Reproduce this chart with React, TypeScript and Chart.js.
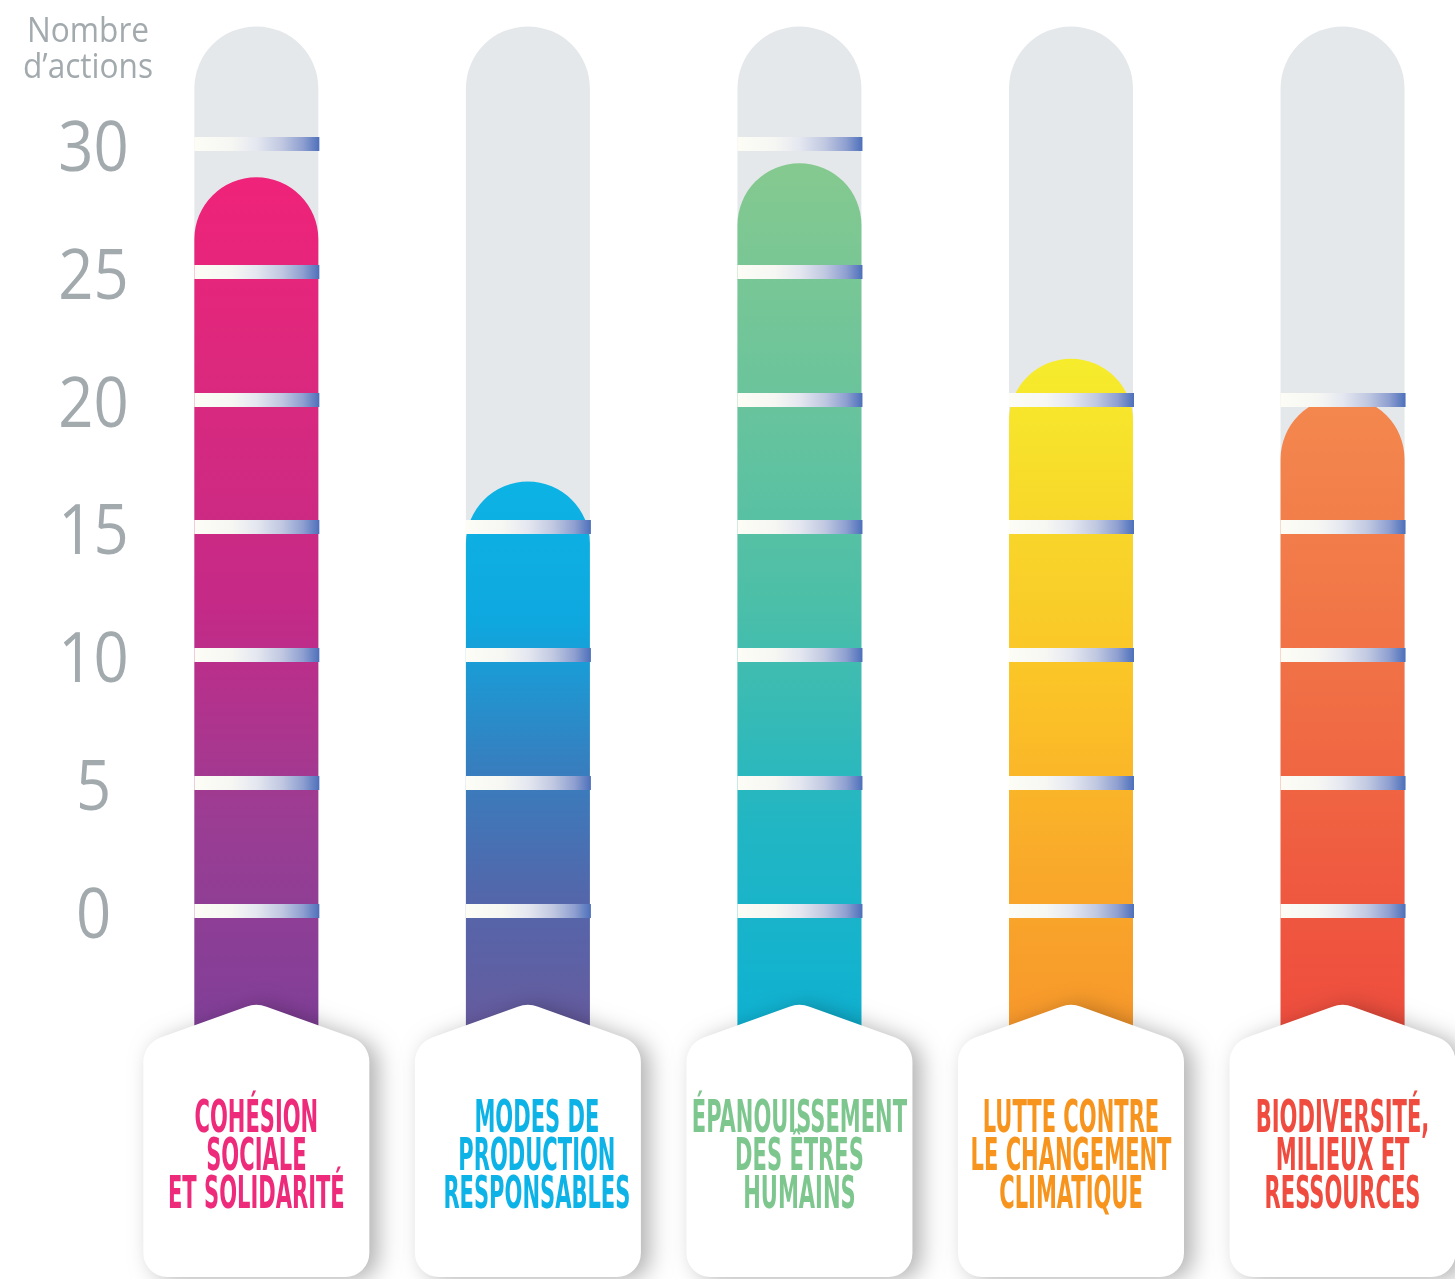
import React, { useEffect, useRef } from 'react';
import { Chart, registerables } from 'chart.js';

Chart.register(...registerables);

// ---------- data ----------
const CATEGORIES: string[][] = [
  ['COHÉSION', 'SOCIALE', 'ET SOLIDARITÉ'],
  ['MODES DE', 'PRODUCTION', 'RESPONSABLES'],
  ['ÉPANOUISSEMENT', 'DES ÊTRES', 'HUMAINS'],
  ['LUTTE CONTRE', 'LE CHANGEMENT', 'CLIMATIQUE'],
  ['BIODIVERSITÉ,', 'MILIEUX ET', 'RESSOURCES'],
];
const VALUES = [28.7, 16.8, 29.25, 21.6, 20.1];
const TICK_VALUES = [0, 5, 10, 15, 20, 25, 30];
const TICK_TOPS = [30, 15, 30, 20, 20];
const AXIS_TITLE = ['Nombre', 'd’actions'];

// ---------- style / layout ----------
const W = 1455;
const H = 1279;
const Y_MAX = 35.632;
const Y_MIN = -14.394;
const X_MIN = -0.9440;
const X_MAX = 4.4141;
const TUBE_TOP = 34.6;
const BAR_BASE = -5;
const BAR_W = 124;
const TUBE_COLOR = '#e5e8ea';
const AXIS_COLOR = '#a2aaae';
const LABEL_COLORS = ['#ee2a7b', '#0db3e6', '#7dc78f', '#f7941d', '#ef4b3f'];
const FILL_STOPS: string[][] = [
  ['#ef2379', '#d9297e', '#c42a87', '#9a3d93', '#7f3f98'],
  ['#0db3e5', '#0ea8df', '#3580c0', '#5466aa', '#685a9e'],
  ['#85c98f', '#6cc49b', '#4cbfa8', '#22b6c3', '#0db1d3'],
  ['#f6ec2c', '#f8d62a', '#fbc227', '#f9a92a', '#f7962b'],
  ['#f3884e', '#f27b49', '#f06c44', '#ef5a40', '#ee4c3d'],
];
const LABEL_DX = [0, 9, 0, 0, 0];
const LABEL_FONT = 'bold 45px "Liberation Sans Narrow", "DejaVu Sans Condensed", "Liberation Sans", sans-serif';
const LABEL_REF_WIDTH = 187;
const LABEL_BASELINES = [1132, 1170, 1208];
const NUM_FONT = '70px "Open Sans", "Noto Sans", sans-serif';
const TITLE_FONT = '34px "Open Sans", "Noto Sans", sans-serif';
const AXIS_CX = 93.5;

function cardPath(ctx: CanvasRenderingContext2D, cx: number) {
  const L = cx - 113;
  const R = cx + 113;
  const apex = 1003;
  const sh = apex + 0.36 * 113;
  const B = 1277;
  ctx.beginPath();
  ctx.moveTo(L, (sh + B) / 2);
  ctx.arcTo(L, sh, cx, apex, 26);
  ctx.arcTo(cx, apex, R, sh, 30);
  ctx.arcTo(R, sh, R, B, 26);
  ctx.arcTo(R, B, L, B, 24);
  ctx.arcTo(L, B, L, sh, 24);
  ctx.closePath();
}

function drawScaled(ctx: CanvasRenderingContext2D, text: string, cx: number, baseline: number, sx: number) {
  ctx.save();
  ctx.translate(cx, baseline);
  ctx.scale(sx, 1);
  ctx.textAlign = 'center';
  ctx.textBaseline = 'alphabetic';
  ctx.fillText(text, 0, 0);
  ctx.restore();
}

const ok = (...n: number[]) => n.every((v) => Number.isFinite(v));

const decorPlugin = {
  id: 'thermoDecor',
  afterDatasetsDraw(chart: any) {
    const ctx = chart.ctx as CanvasRenderingContext2D;
    const yS = chart.scales.y;
    const meta = chart.getDatasetMeta(1);
    ctx.save();

    // tick strips
    meta.data.forEach((bar: any, i: number) => {
      const { x, width } = bar.getProps(['x', 'width'], true);
      if (!ok(x, width)) return;
      const left = x - width / 2;
      const right = x + width / 2 + 1;
      const g = ctx.createLinearGradient(left, 0, right, 0);
      g.addColorStop(0, '#fdfdf6');
      g.addColorStop(0.3, '#f6f7f3');
      g.addColorStop(0.5, '#e4e7f0');
      g.addColorStop(0.7, '#c0c8e1');
      g.addColorStop(0.87, '#8e9fd0');
      g.addColorStop(1, '#4d70bb');
      ctx.fillStyle = g;
      TICK_VALUES.forEach((t) => {
        if (t > TICK_TOPS[i]) return;
        const py = yS.getPixelForValue(t);
        ctx.fillRect(left, Math.round(py) - 7, right - left, 14);
      });
    });

    // cards
    meta.data.forEach((bar: any) => {
      const { x } = bar.getProps(['x'], true);
      if (!ok(x)) return;
      ctx.save();
      ctx.shadowColor = 'rgba(0,0,0,0.3)';
      ctx.shadowBlur = 22;
      ctx.shadowOffsetX = 9;
      ctx.shadowOffsetY = 3;
      ctx.fillStyle = '#ffffff';
      cardPath(ctx, x);
      ctx.fill();
      ctx.restore();
    });

    // category labels
    ctx.font = LABEL_FONT;
    const sx = LABEL_REF_WIDTH / ctx.measureText(CATEGORIES[1][2]).width;
    meta.data.forEach((bar: any, i: number) => {
      const { x } = bar.getProps(['x'], true);
      if (!ok(x)) return;
      ctx.fillStyle = LABEL_COLORS[i];
      CATEGORIES[i].forEach((line, k) => {
        drawScaled(ctx, line, x + LABEL_DX[i], LABEL_BASELINES[k], sx);
      });
    });

    // axis numbers
    ctx.fillStyle = AXIS_COLOR;
    ctx.font = NUM_FONT;
    TICK_VALUES.forEach((t) => {
      const py = yS.getPixelForValue(t);
      if (!ok(py)) return;
      drawScaled(ctx, String(t), AXIS_CX, py + 27, 0.88);
    });

    // axis title
    ctx.font = TITLE_FONT;
    drawScaled(ctx, AXIS_TITLE[0], 88, 42, 0.93);
    drawScaled(ctx, AXIS_TITLE[1], 88, 78, 0.93);

    ctx.restore();
  },
};

export default function App() {
  const ref = useRef<HTMLCanvasElement | null>(null);

  useEffect(() => {
    document.body.style.margin = '0';
    const canvas = ref.current;
    if (!canvas) return;
    const chart = new Chart(canvas, {
      type: 'bar',
      data: {
        datasets: [
          {
            label: 'Nombre d’actions',
            data: VALUES.map((v, i) => ({ x: i, y: [BAR_BASE, v] })) as any,
            backgroundColor: (c: any) => {
              const ch = c.chart;
              const yS = ch.scales && ch.scales.y;
              if (c.type !== 'data' || !yS) return FILL_STOPS[0][0];
              const i = c.dataIndex;
              const top = yS.getPixelForValue(VALUES[i]);
              const bottom = yS.getPixelForValue(BAR_BASE);
              if (!ok(top, bottom) || top === bottom) return FILL_STOPS[i][0];
              const g = ch.ctx.createLinearGradient(0, top, 0, bottom);
              const stops = FILL_STOPS[i];
              stops.forEach((col, k) => g.addColorStop(k / (stops.length - 1), col));
              return g;
            },
            borderRadius: { topLeft: BAR_W / 2, topRight: BAR_W / 2, bottomLeft: 0, bottomRight: 0 },
            borderSkipped: 'start',
            borderWidth: 0,
            barThickness: BAR_W,
            grouped: false,
            inflateAmount: 0,
            order: 1,
          } as any,
          {
            label: 'tube',
            data: VALUES.map((_, i) => ({ x: i, y: [BAR_BASE, TUBE_TOP] })) as any,
            backgroundColor: TUBE_COLOR,
            borderRadius: { topLeft: BAR_W / 2, topRight: BAR_W / 2, bottomLeft: 0, bottomRight: 0 },
            borderSkipped: 'start',
            borderWidth: 0,
            barThickness: BAR_W,
            grouped: false,
            inflateAmount: 0,
            order: 2,
          } as any,
        ],
      },
      options: {
        responsive: false,
        animation: false,
        devicePixelRatio: 1,
        layout: { padding: 0 },
        plugins: { legend: { display: false }, tooltip: { enabled: false } },
        scales: {
          x: { type: 'linear', min: X_MIN, max: X_MAX, display: false, bounds: 'data', offset: false, grid: { offset: false } },
          y: { type: 'linear', min: Y_MIN, max: Y_MAX, display: false, bounds: 'data', offset: false },
        },
      } as any,
      plugins: [decorPlugin],
    });
    return () => chart.destroy();
  }, []);

  return (
    <div style={{ position: 'absolute', left: 0, top: 0, width: W, height: H, background: '#ffffff' }}>
      <canvas ref={ref} width={W} height={H} style={{ width: W, height: H, display: 'block' }} />
    </div>
  );
}
